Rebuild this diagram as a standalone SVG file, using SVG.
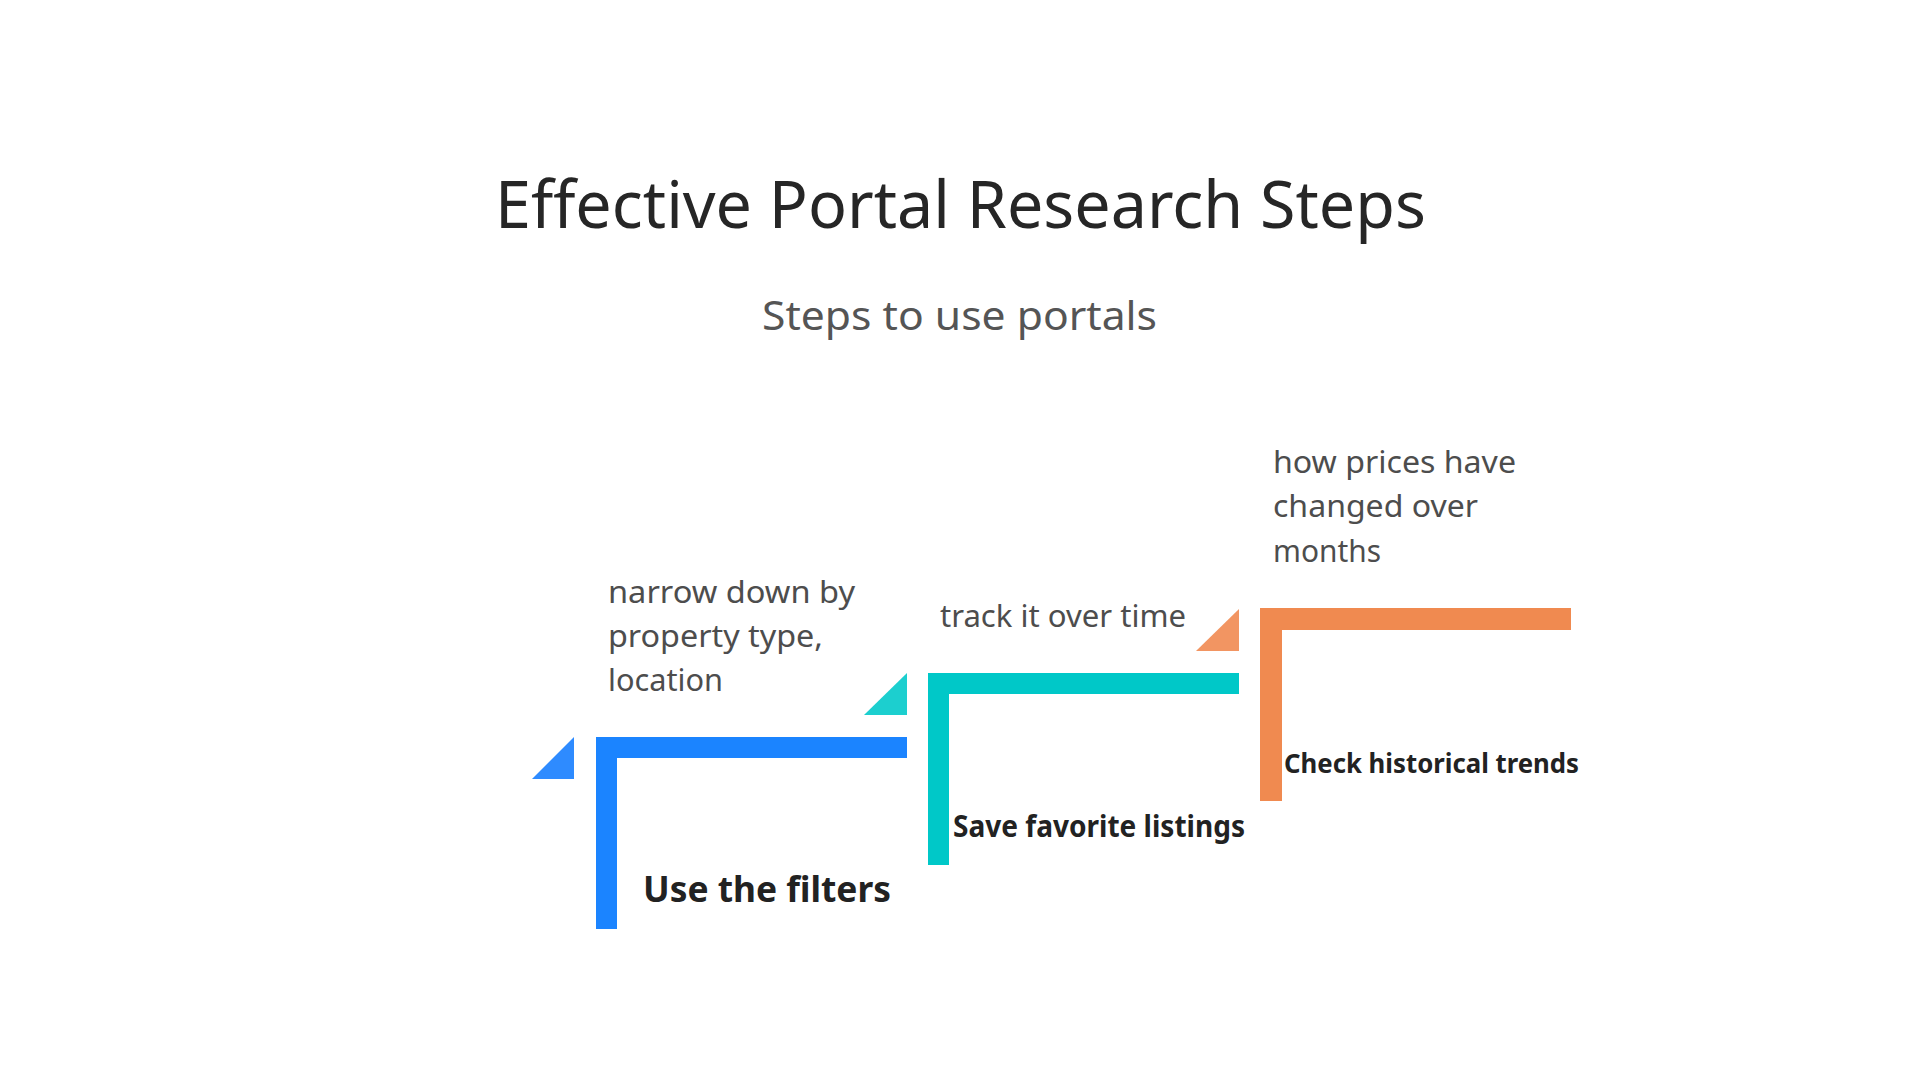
<svg xmlns="http://www.w3.org/2000/svg" width="1920" height="1080" viewBox="0 0 1920 1080">
<style>
.title{font-family:"Noto Sans","Open Sans",sans-serif;font-size:66px;fill:#262626}
.sub{font-family:"Noto Sans","Open Sans",sans-serif;font-size:40px;fill:#555555}
.desc{font-family:"Noto Sans","Open Sans",sans-serif;font-size:30px;fill:#4d4d4d}
.lbl{font-family:"Noto Sans","Open Sans",sans-serif;font-weight:bold;fill:#222222}
</style>
<rect width="1920" height="1080" fill="#ffffff"/>
<text class="title" x="495" y="228" textLength="931" lengthAdjust="spacingAndGlyphs">Effective Portal Research Steps</text>
<text class="sub" x="762" y="330" textLength="395" lengthAdjust="spacingAndGlyphs">Steps to use portals</text>
<g id="connectors"></g>
<g id="step1">
  <polygon points="532,779 574,737 574,779" fill="#2e8bff"/>
  <path d="M596,737 H907 V758 H617 V929 H596 Z" fill="#1b84ff"/>
  <text class="desc" x="608" y="603" textLength="247" lengthAdjust="spacingAndGlyphs">narrow down by</text>
  <text class="desc" x="608" y="647" textLength="215" lengthAdjust="spacingAndGlyphs">property type,</text>
  <text class="desc" x="608" y="691" textLength="115" lengthAdjust="spacingAndGlyphs">location</text>
  <text class="lbl" x="643" y="902" font-size="36" textLength="248" lengthAdjust="spacingAndGlyphs">Use the filters</text>
</g>
<g id="step2">
  <polygon points="864,715 907,673 907,715" fill="#1ccfcf"/>
  <path d="M928,673 H1239 V694 H949 V865 H928 Z" fill="#00c8c8"/>
  <text class="desc" x="940" y="627" textLength="246" lengthAdjust="spacingAndGlyphs">track it over time</text>
  <text class="lbl" x="953" y="837" font-size="30" textLength="292" lengthAdjust="spacingAndGlyphs">Save favorite listings</text>
</g>
<g id="step3">
  <polygon points="1196,651 1239,609 1239,651" fill="#f29562"/>
  <path d="M1260,608 H1571 V630 H1282 V801 H1260 Z" fill="#f08a50"/>
  <text class="desc" x="1273" y="473" textLength="243" lengthAdjust="spacingAndGlyphs">how prices have</text>
  <text class="desc" x="1273" y="517" textLength="205" lengthAdjust="spacingAndGlyphs">changed over</text>
  <text class="desc" x="1273" y="562" textLength="108" lengthAdjust="spacingAndGlyphs">months</text>
  <text class="lbl" x="1284" y="773" font-size="26" textLength="295" lengthAdjust="spacingAndGlyphs">Check historical trends</text>
</g>
</svg>
